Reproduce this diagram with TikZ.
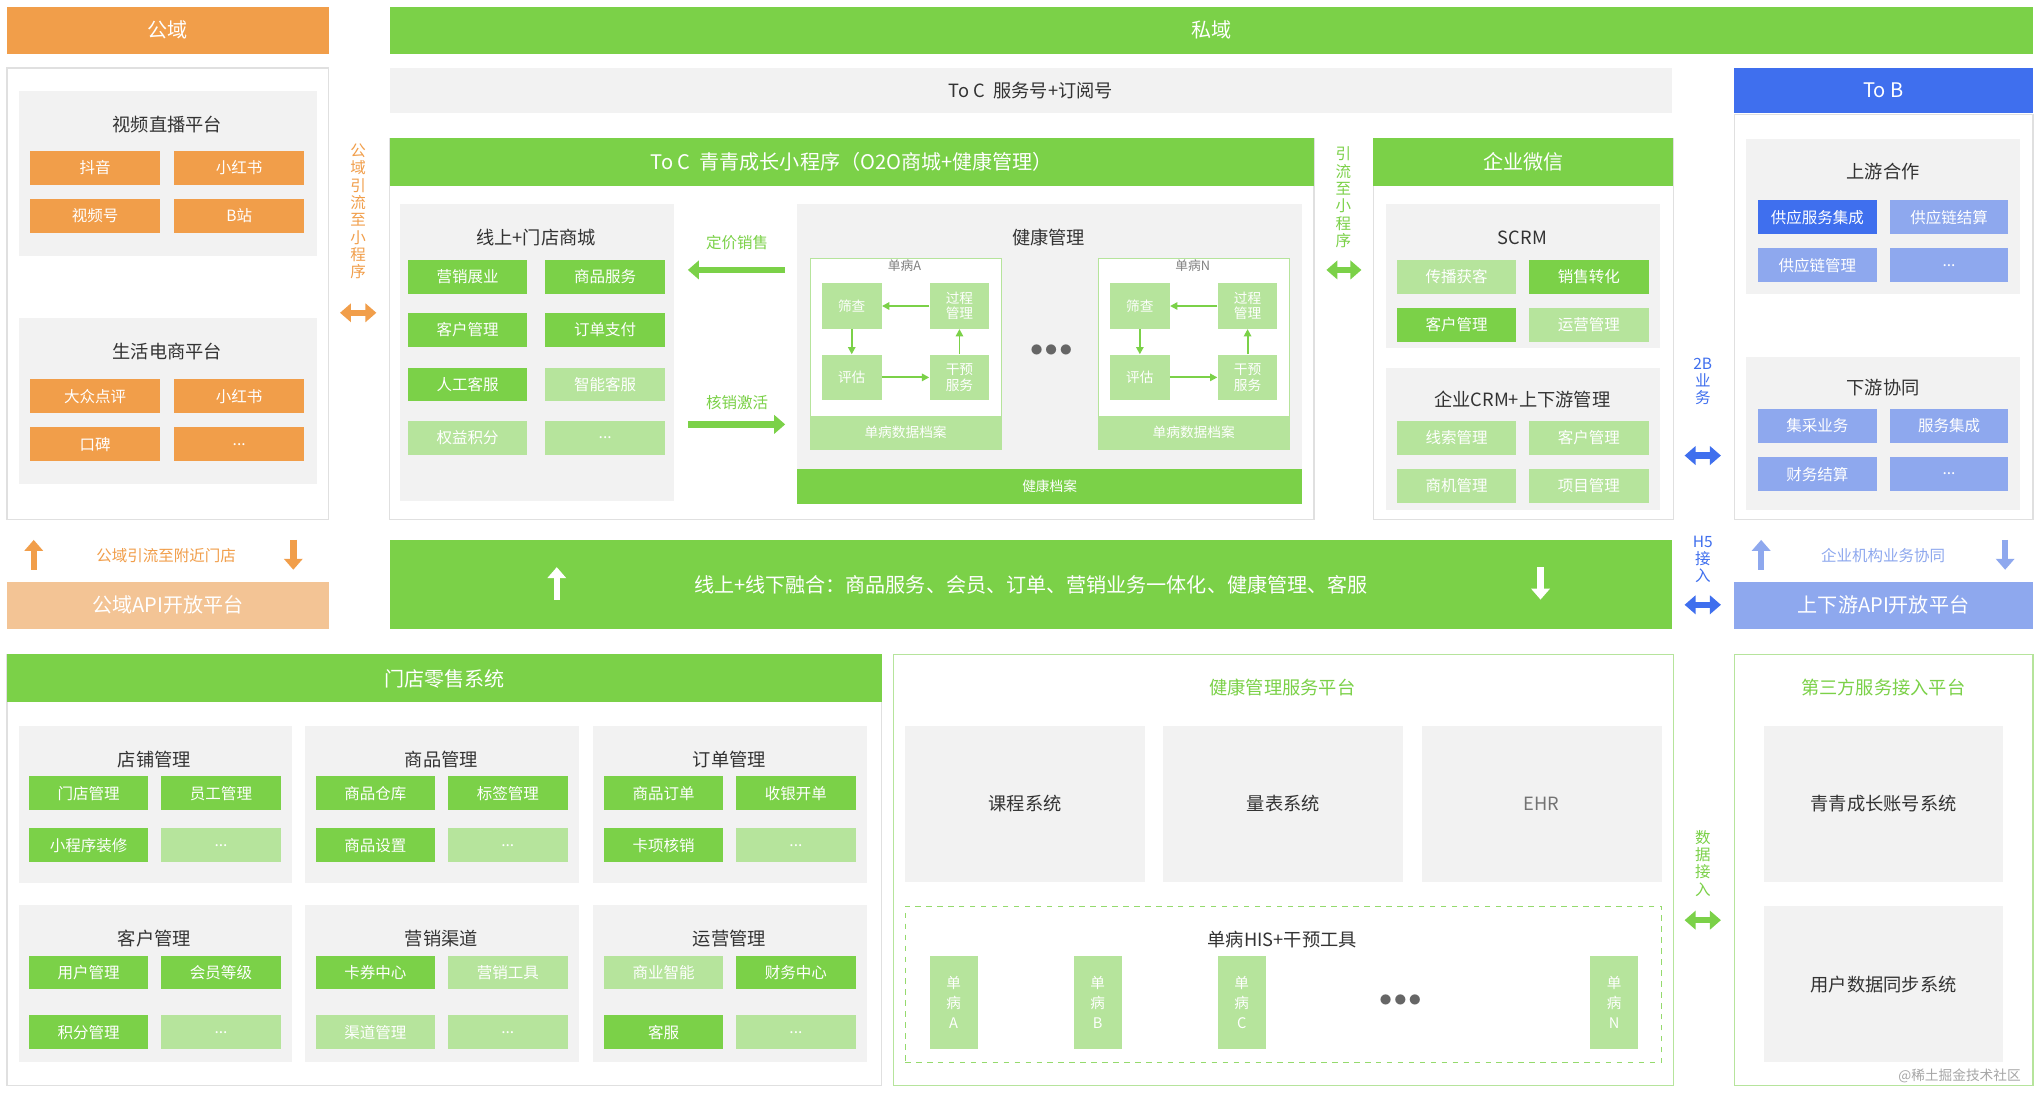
\documentclass[tikz,border=0pt]{standalone}
\usepackage{fontspec}
\setmainfont{Noto Sans CJK SC}
\usetikzlibrary{arrows.meta,positioning}
\definecolor{org}{HTML}{F19E4A}
\definecolor{porg}{HTML}{F3C495}
\definecolor{grn}{HTML}{7BD148}
\definecolor{lgrn}{HTML}{B6E49C}
\definecolor{gry}{HTML}{F2F2F2}
\definecolor{blu}{HTML}{3F6FEE}
\definecolor{lblu}{HTML}{8EA8EE}
\definecolor{txt}{HTML}{333333}
\def\dd{...}
\tikzset{
  base/.style={inner sep=0pt, text=white, font=\fontsize{8.5}{10}\selectfont},
  hdr/.style={base, font=\fontsize{11}{13}\selectfont},
  panel/.style={draw=black!12, fill=white, line width=0.6pt},
  gpanel/.style={draw=lgrn, fill=white, line width=0.6pt},
  sub/.style={fill=gry},
  gbox/.style={base, fill=grn},
  lbox/.style={base, fill=lgrn},
  obox/.style={base, fill=org},
  bbox/.style={base, fill=blu},
  lbbox/.style={base, fill=lblu},
  ttl/.style={text=txt, font=\fontsize{10}{12}\selectfont},
  vtxt/.style={align=center, font=\fontsize{8.5}{9.5}\selectfont, inner sep=0pt},
  fat/.style={line width=3.5pt, -{Triangle[length=6pt,width=10pt]}},
  dbl/.style={line width=3.5pt, {Triangle[length=6pt,width=10pt]}-{Triangle[length=6pt,width=10pt]}},
  thin/.style={line width=1pt, -{Triangle[length=4pt,width=4pt]}}
}
\def\bx#1#2(#3,#4)(#5,#6)#7{\node[#1,anchor=north west,minimum width={((#5)-(#3))*0.025cm},minimum height={((#6)-(#4))*0.025cm}] (#2) at (#3,#4) {#7};}
\begin{document}
\begin{tikzpicture}[x=0.025cm,y=-0.025cm]
\useasboundingbox[fill=white] (0,0) rectangle (1568,842);

% public domain column
\bx{hdr,fill=org}{pub}(5,5)(253,41){公域}
\bx{panel}{pubp}(5,52)(253,400){}
\bx{sub}{video}(14,70)(244,197){}
\node[ttl] at (129,96) {视频直播平台};
\bx{obox}{dy}(23,116)(123,142){抖音}
\bx{obox}{xhs}(134,116)(234,142){小红书}
\bx{obox}{sph}(23,153)(123,179){视频号}
\bx{obox}{bz}(134,153)(234,179){B站}
\bx{sub}{shop}(14,245)(244,373){}
\node[ttl] at (129,271) {生活电商平台};
\bx{obox}{dz}(23,292)(123,318){大众点评}
\bx{obox}{xhs2}(134,292)(234,318){小红书}
\bx{obox}{kb}(23,329)(123,355){口碑}
\bx{obox}{more1}(134,329)(234,355){...}
\coordinate (ou1) at (26,439); \coordinate (ou2) at (26,416);
\coordinate (od1) at (226,416); \coordinate (od2) at (226,439);
\draw[fat,org] (ou1) -- (ou2);
\draw[fat,org] (od1) -- (od2);
\node[text=org, font=\fontsize{8.5}{10}\selectfont] at (128,428) {公域引流至附近门店};
\bx{hdr,fill=porg}{pubapi}(5,448)(253,484){公域API开放平台}
\node[vtxt,text=org] (vpub) at (276,163) {公\\域\\引\\流\\至\\小\\程\\序};
\coordinate (oa1) at (262,241); \coordinate (oa2) at (290,241);
\draw[dbl,org] (oa1) -- (oa2);

% private domain
\bx{hdr,fill=grn}{priv}(300,5)(1566,41){私域}
\bx{sub,text=txt,font=\fontsize{10}{12}\selectfont}{toc}(300,52)(1288,87){To C\ \ 服务号+订阅号}
\bx{hdr,fill=blu}{tob}(1336,52)(1566,87){To B}

% mini program
\bx{panel}{minip}(300,106)(1012,400){}
\bx{hdr,fill=grn}{minih}(300,106)(1012,143){To C\ \ 青青成长小程序（O2O商城+健康管理）}
\bx{sub}{mall}(308,157)(519,386){}
\node[ttl] at (413,183) {线上+门店商城};
\bx{gbox}{m1}(314,200)(406,226){营销展业}
\bx{gbox}{m2}(420,200)(512,226){商品服务}
\bx{gbox}{m3}(314,241)(406,267){客户管理}
\bx{gbox}{m4}(420,241)(512,267){订单支付}
\bx{gbox}{m5}(314,283)(406,309){人工客服}
\bx{lbox}{m6}(420,283)(512,309){智能客服}
\bx{lbox}{m7}(314,324)(406,350){权益积分}
\bx{lbox}{m8}(420,324)(512,350){...}
\node[text=grn, font=\fontsize{8.5}{10}\selectfont] at (568,187) {定价销售};
\node[text=grn, font=\fontsize{8.5}{10}\selectfont] at (568,310) {核销激活};
\coordinate (ga1) at (605,208); \coordinate (ga2) at (530,208);
\coordinate (gb1) at (530,327); \coordinate (gb2) at (605,327);
\draw[fat,grn] (ga1) -- (ga2);
\draw[fat,grn] (gb1) -- (gb2);

\bx{sub}{health}(614,157)(1003,388){}
\node[ttl] at (808,183) {健康管理};
\foreach \n/\x/\l in {a/624/A, n/846/N} {
  \bx{gpanel,fill=white}{d\n}(\x,199)(\x+147,346){}
  \node[text=black!50, font=\fontsize{7}{8}\selectfont] at (\x+73,205) {单病\l};
  \bx{lbox,font=\fontsize{7.5}{8.5}\selectfont}{sc\n}(\x+9,218)(\x+55,253){筛查}
  \bx{lbox,font=\fontsize{7.5}{8.5}\selectfont,align=center}{gc\n}(\x+92,218)(\x+138,253){过程\\管理}
  \bx{lbox,font=\fontsize{7.5}{8.5}\selectfont}{pg\n}(\x+9,273)(\x+55,308){评估}
  \bx{lbox,font=\fontsize{7.5}{8.5}\selectfont,align=center}{gy\n}(\x+92,273)(\x+138,308){干预\\服务}
  \bx{lbox,font=\fontsize{7.5}{8.5}\selectfont}{da\n}(\x,320)(\x+147,346){单病数据档案}
  \draw[thin,grn] (gc\n) -- (sc\n);
  \draw[thin,grn] (sc\n) -- (pg\n);
  \draw[thin,grn] (pg\n) -- (gy\n);
  \draw[thin,grn] (gy\n) -- (gc\n);
}
\node[text=black!60, font=\fontsize{14}{14}\selectfont] at (810,270) {$\bullet\!\bullet\!\bullet$};
\bx{gbox,font=\fontsize{7.5}{8.5}\selectfont}{jkda}(614,361)(1003,388){健康档案}

\node[vtxt,text=grn] (vmini) at (1035,152) {引\\流\\至\\小\\程\\序};
\coordinate (ma1) at (1022,208); \coordinate (ma2) at (1049,208);
\draw[dbl,grn] (ma1) -- (ma2);

% wecom
\bx{panel}{wx}(1058,106)(1289,400){}
\bx{hdr,fill=grn}{wxh}(1058,106)(1289,143){企业微信}
\bx{sub}{scrm}(1068,157)(1279,268){}
\node[ttl] at (1173,183) {SCRM};
\bx{lbox}{s1}(1076,200)(1168,226){传播获客}
\bx{gbox}{s2}(1178,200)(1270,226){销售转化}
\bx{gbox}{s3}(1076,237)(1168,263){客户管理}
\bx{lbox}{s4}(1178,237)(1270,263){运营管理}
\bx{sub}{crm}(1068,283)(1279,393){}
\node[ttl] at (1173,308) {企业CRM+上下游管理};
\bx{lbox}{c1}(1076,324)(1168,350){线索管理}
\bx{lbox}{c2}(1178,324)(1270,350){客户管理}
\bx{lbox}{c3}(1076,361)(1168,387){商机管理}
\bx{lbox}{c4}(1178,361)(1270,387){项目管理}

\node[vtxt,text=blu] (v2b) at (1312,294) {2B\\业\\务};
\coordinate (ba1) at (1298,351); \coordinate (ba2) at (1326,351);
\draw[dbl,blu] (ba1) -- (ba2);

% to B column
\bx{panel}{tobp}(1336,88)(1566,400){}
\bx{sub}{up}(1345,107)(1556,226){}
\node[ttl] at (1451,132) {上游合作};
\bx{bbox}{u1}(1354,154)(1446,180){供应服务集成}
\bx{lbbox}{u2}(1456,154)(1547,180){供应链结算}
\bx{lbbox}{u3}(1354,191)(1446,217){供应链管理}
\bx{lbbox}{u4}(1456,191)(1547,217){...}
\bx{sub}{down}(1345,275)(1556,393){}
\node[ttl] at (1451,299) {下游协同};
\bx{lbbox}{w1}(1354,315)(1446,341){集采业务}
\bx{lbbox}{w2}(1456,315)(1547,341){服务集成}
\bx{lbbox}{w3}(1354,352)(1446,378){财务结算}
\bx{lbbox}{w4}(1456,352)(1547,378){...}
\coordinate (bu1) at (1357,439); \coordinate (bu2) at (1357,416);
\coordinate (bd1) at (1545,416); \coordinate (bd2) at (1545,439);
\draw[fat,lblu] (bu1) -- (bu2);
\draw[fat,lblu] (bd1) -- (bd2);
\node[text=lblu, font=\fontsize{8.5}{10}\selectfont] at (1451,428) {企业机构业务协同};
\bx{hdr,fill=lblu}{tobapi}(1336,448)(1566,484){上下游API开放平台}

% fusion bar
\bx{hdr,fill=grn}{fuse}(300,416)(1288,484){线上+线下融合：商品服务、会员、订单、营销业务一体化、健康管理、客服}
\coordinate (fu1) at (429,462); \coordinate (fu2) at (429,437);
\coordinate (fd1) at (1187,437); \coordinate (fd2) at (1187,462);
\draw[fat,white] (fu1) -- (fu2);
\draw[fat,white] (fd1) -- (fd2);
\node[vtxt,text=blu] (vh5) at (1312,431) {H5\\接\\入};
\coordinate (ha1) at (1298,466); \coordinate (ha2) at (1326,466);
\draw[dbl,blu] (ha1) -- (ha2);

% store retail
\bx{panel}{store}(5,504)(679,836){}
\bx{hdr,fill=grn}{storeh}(5,504)(679,541){门店零售系统}
\foreach \x/\y/\dy/\t/\a/\sa/\b/\sb/\c/\sc/\d/\sd in {
  14/559/79/店铺管理/门店管理/gbox/员工管理/gbox/小程序装修/gbox/\dd/lbox,
  235/559/79/商品管理/商品仓库/gbox/标签管理/gbox/商品设置/gbox/\dd/lbox,
  457/559/79/订单管理/商品订单/gbox/收银开单/gbox/卡项核销/gbox/\dd/lbox,
  14/697/85/客户管理/用户管理/gbox/会员等级/gbox/积分管理/gbox/\dd/lbox,
  235/697/85/营销渠道/卡券中心/gbox/营销工具/lbox/渠道管理/lbox/\dd/lbox,
  457/697/85/运营管理/商业智能/lbox/财务中心/gbox/客服/gbox/\dd/lbox} {
  \bx{sub}{p\x\y}(\x,\y)(\x+211,\y+121){}
  \node[ttl] at (\x+105,\y+26) {\t};
  \bx{\sa}{a\x\y}(\x+8,\y+39)(\x+100,\y+65){\a}
  \bx{\sb}{b\x\y}(\x+110,\y+39)(\x+202,\y+65){\b}
  \bx{\sc}{c\x\y}(\x+8,\y+\dy)(\x+100,\y+\dy+26){\c}
  \bx{\sd}{e\x\y}(\x+110,\y+\dy)(\x+202,\y+\dy+26){\d}
}

% health service platform
\bx{gpanel}{hsp}(688,504)(1289,836){}
\node[text=grn, font=\fontsize{10}{12}\selectfont] at (988,530) {健康管理服务平台};
\bx{sub,text=txt,font=\fontsize{10}{12}\selectfont}{kc}(697,559)(882,679){课程系统}
\bx{sub,text=txt,font=\fontsize{10}{12}\selectfont}{lb}(896,559)(1081,679){量表系统}
\bx{sub,text=black!55,font=\fontsize{10}{12}\selectfont}{ehr}(1095,559)(1280,679){EHR}
\bx{draw=grn!80,dashed,line width=0.6pt}{his}(697,698)(1280,818){}
\node[ttl] at (988,724) {单病HIS+干预工具};
\foreach \x/\l in {716/A, 827/B, 938/C, 1225/N}
  \bx{lbox,align=center,font=\fontsize{8}{11}\selectfont}{dz\l}(\x,736)(\x+37,808){单\\病\\\l};
\node[text=black!60, font=\fontsize{14}{14}\selectfont] at (1079,771) {$\bullet\!\bullet\!\bullet$};
\node[vtxt,text=grn] (vdata) at (1312,665) {数\\据\\接\\入};
\coordinate (da1) at (1298,709); \coordinate (da2) at (1326,709);
\draw[dbl,grn] (da1) -- (da2);

% third party
\bx{gpanel}{third}(1336,504)(1566,836){}
\node[text=grn, font=\fontsize{10}{12}\selectfont] at (1451,530) {第三方服务接入平台};
\bx{sub,text=txt,font=\fontsize{10}{12}\selectfont}{acct}(1359,559)(1543,679){青青成长账号系统}
\bx{sub,text=txt,font=\fontsize{10}{12}\selectfont}{sync}(1359,698)(1543,818){用户数据同步系统}
\node[text=black!35, font=\fontsize{7.5}{9}\selectfont, anchor=east] at (1562,829) {@稀土掘金技术社区};
\end{tikzpicture}
\end{document}
